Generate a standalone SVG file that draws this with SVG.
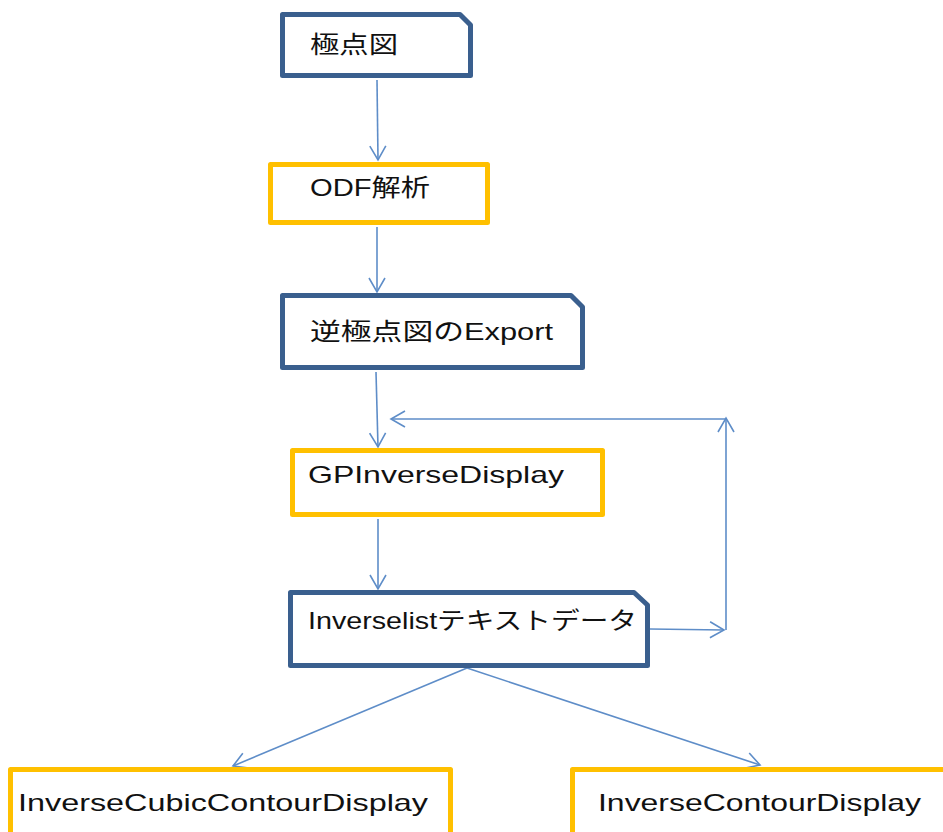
<svg xmlns="http://www.w3.org/2000/svg" width="943" height="832" viewBox="0 0 943 832">
<defs>
<style>
.blue{fill:#fff;stroke:#3A5F8E;stroke-width:5;stroke-linejoin:round}
.yel{fill:#fff;stroke:#FFC000;stroke-width:5;stroke-linejoin:round}
.t{font-family:"Liberation Sans","Noto Sans CJK JP",sans-serif;font-size:24px;fill:#111}
.c{fill:none;stroke:#5E8DC8;stroke-width:1.6;marker-end:url(#ah)}
</style>
<marker id="ah" viewBox="0 0 18 18" markerWidth="18" markerHeight="18" refX="15" refY="9" orient="auto" markerUnits="userSpaceOnUse">
<path d="M1,1 L15,9 L1,17" fill="none" stroke="#5E8DC8" stroke-width="1.6"/>
</marker>
</defs>
<rect width="943" height="832" fill="#fff"/>
<g id="connectors">
<line class="c" x1="377" y1="80" x2="378" y2="160"/>
<line class="c" x1="377" y1="227" x2="377" y2="292"/>
<line class="c" x1="376" y1="372" x2="378" y2="447"/>
<line class="c" x1="378" y1="519" x2="378" y2="589"/>
<line class="c" x1="650" y1="629" x2="724" y2="630"/>
<line class="c" x1="726" y1="630" x2="726" y2="418"/>
<line class="c" x1="726" y1="419" x2="391" y2="419"/>
<line class="c" x1="467" y1="668" x2="233" y2="766"/>
<line class="c" x1="467" y1="668" x2="760" y2="765"/>
</g>
<g id="n1">
<path class="blue" d="M282.5,14.5 H460 L470.5,25 V75.5 H282.5 Z"/>
<text class="t" x="310" y="53" textLength="88" lengthAdjust="spacingAndGlyphs">極点図</text>
</g>
<g id="n2">
<rect class="yel" x="270.5" y="164.5" width="217" height="58"/>
<text class="t" x="310" y="196" textLength="120" lengthAdjust="spacingAndGlyphs">ODF解析</text>
</g>
<g id="n3">
<path class="blue" d="M282.5,295.5 H571 L582.5,307 V367.5 H282.5 Z"/>
<text class="t" x="310" y="340" textLength="243" lengthAdjust="spacingAndGlyphs">逆極点図のExport</text>
</g>
<g id="n4">
<rect class="yel" x="292.5" y="450.5" width="310" height="64"/>
<text class="t" x="308" y="483" textLength="256" lengthAdjust="spacingAndGlyphs">GPInverseDisplay</text>
</g>
<g id="n5">
<path class="blue" d="M290.5,592.5 H634 L647.5,605 V665.5 H290.5 Z"/>
<text class="t" x="308" y="629" textLength="329" lengthAdjust="spacingAndGlyphs">Inverselistテキストデータ</text>
</g>
<g id="n6">
<rect class="yel" x="10.5" y="769.5" width="440" height="70"/>
<text class="t" x="18" y="811" textLength="410" lengthAdjust="spacingAndGlyphs">InverseCubicContourDisplay</text>
</g>
<g id="n7">
<rect class="yel" x="572.5" y="769.5" width="380" height="70"/>
<text class="t" x="598" y="811" textLength="323" lengthAdjust="spacingAndGlyphs">InverseContourDisplay</text>
</g>
</svg>
